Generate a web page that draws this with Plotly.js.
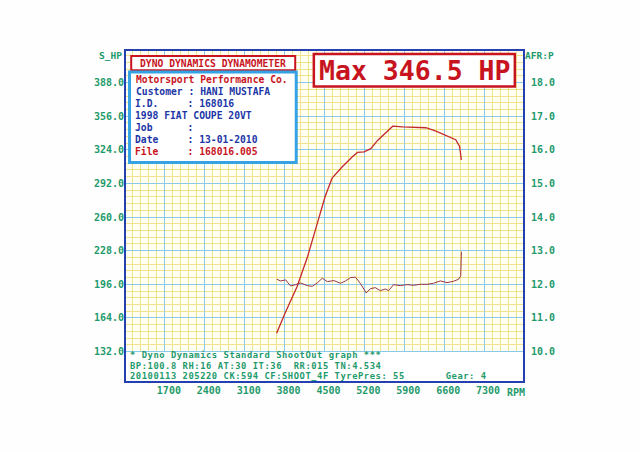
<!DOCTYPE html>
<html>
<head>
<meta charset="utf-8">
<script src="https://cdn.plot.ly/plotly-3.0.1.min.js"></script>
<style>
html,body{margin:0;padding:0;background:#fefefe;overflow:hidden;}
#chart{width:640px;height:452px;}
</style>
</head>
<body>
<div id="chart"></div>
<script>
// ---- data read from the dyno sheet ----
const rpmTicks = [1700, 2400, 3100, 3800, 4500, 5200, 5900, 6600, 7300];
const hpTicks = [132, 164, 196, 228, 260, 292, 324, 356, 388];
const afrTicks = [10, 11, 12, 13, 14, 15, 16, 17, 18];

const rpmPower = [3660, 3811, 4022, 4205, 4358, 4511, 4633, 4812, 4989, 5078, 5195, 5312, 5431, 5578, 5697, 5872, 6080, 6280, 6455, 6628, 6802, 6870, 6901];
const hpPower  = [149.4, 169.0, 194.2, 222.7, 251.1, 279.6, 297.0, 307.9, 317.3, 321.5, 322.0, 325.1, 332.9, 340.7, 346.5, 345.8, 345.6, 345.0, 341.8, 337.8, 333.6, 327.2, 314.5];

const rpmAfr = [3662, 3731, 3819, 3905, 3993, 4081, 4197, 4285, 4373, 4462, 4549, 4665, 4781, 4869, 4958, 5045, 5131, 5233, 5305, 5392, 5479, 5567, 5624, 5713, 5830, 5948, 6063, 6181, 6299, 6414, 6532, 6649, 6764, 6852, 6890, 6902];
const afrVals = [12.15, 12.10, 12.13, 11.95, 11.99, 12.04, 11.96, 11.94, 12.04, 12.18, 12.08, 12.11, 12.03, 12.10, 12.20, 12.21, 12.02, 11.74, 11.87, 11.90, 11.81, 11.86, 11.81, 11.99, 11.96, 11.99, 11.97, 12.00, 12.00, 12.03, 12.10, 12.05, 12.09, 12.15, 12.25, 12.97];

const headerLines = [
  ['Motorsport Performance Co.', 'red'],
  ['Customer : HANI MUSTAFA', 'blue'],
  ['I.D.     : 168016', 'blue'],
  ['1998 FIAT COUPE 20VT', 'blue'],
  ['Job      :', 'blue'],
  ['Date     : 13-01-2010', 'blue'],
  ['File     : 168016.005', 'red']
];
const footerLines = [
  '* Dyno Dynamics Standard ShootOut graph ***',
  'BP:100.8 RH:16 AT:30 IT:36  RR:015 TN:4.534',
  '20100113 205220 CK:594 CF:SHOOT_4F TyrePres: 55'
];
const gearText = 'Gear: 4';
const maxText = 'Max 346.5 HP';
const titleText = 'DYNO DYNAMICS DYNAMOMETER';

// ---- layout helpers (reference positions mapped into the frame's own axes) ----
const L = 125, T = 50, W = 399, H = 332;
const CX = 324.5, CY = 216, TH = 0.72 * Math.PI / 180;
function unrot(rx, ry) {
  const dx = rx - CX, dy = ry - CY;
  return [CX + dx * Math.cos(TH) - dy * Math.sin(TH), CY + dx * Math.sin(TH) + dy * Math.cos(TH)];
}
const px = x => (x - L) / W;
const py = y => 1 - (y - T) / H;
const nb = s => s.replace(/ /g, '\u00a0');

const RED = '#c8141e', BLUE = '#1c36a6', GREEN = '#1f9a6c', FRAME = '#2440b0';
const MONO = 'DejaVu Sans Mono, Liberation Mono, monospace';

function rectRef(x0, y0, x1, y1, line, lw, fill) {
  const c = unrot((x0 + x1) / 2, (y0 + y1) / 2);
  const hw = (x1 - x0) / 2, hh = (y1 - y0) / 2;
  return {type: 'rect', xref: 'paper', yref: 'paper', layer: 'above',
    x0: px(c[0] - hw), x1: px(c[0] + hw), y0: py(c[1] + hh), y1: py(c[1] - hh),
    line: {color: line, width: lw}, fillcolor: fill};
}
function textRef(rx, ry, text, color, size, anchor) {
  const c = unrot(rx, ry);
  return {xref: 'paper', yref: 'paper', x: px(c[0]), y: py(c[1]), text: text,
    showarrow: false, xanchor: anchor || 'left', yanchor: 'middle', align: anchor || 'left',
    font: {family: MONO, size: size, color: color, weight: 700}, borderpad: 0};
}

const fmt1 = v => v.toFixed(1);
const yMin = 103, yMax = 419;
const toAfr = v => (v - 132) / 32 + 10;

const traces = [
  {x: rpmPower, y: hpPower, type: 'scatter', mode: 'lines', yaxis: 'y',
   line: {color: '#c22a2a', width: 1.3}, hoverinfo: 'skip'},
  {x: rpmAfr, y: afrVals, type: 'scatter', mode: 'lines', yaxis: 'y2',
   line: {color: '#9a3446', width: 1}, hoverinfo: 'skip'}
];

const shapes = [
  {type: 'rect', xref: 'paper', yref: 'y', layer: 'above', x0: 0, x1: 1, y0: yMin, y1: 131.5,
   line: {width: 0}, fillcolor: '#ffffff'},
  {type: 'rect', xref: 'paper', yref: 'paper', layer: 'above', x0: 0, x1: 1, y0: 0, y1: 1,
   line: {color: FRAME, width: 2}},
  rectRef(129.3, 57.3, 293.3, 71.7, RED, 2, '#ffffff'),
  rectRef(128.3, 73.3, 295, 164, '#35a2e4', 3, '#ffffff'),
  rectRef(312, 53, 513, 85.5, RED, 2.5, '#ffffff')
];

const FS = 8.8, LS = 0.55, PITCH = 10.5; // compact footer font, spacing, line pitch
const annotations = [];
annotations.push(textRef(211.3, 64.5, nb(titleText), RED, 9.7, 'center'));
headerLines.forEach((ln, i) => {
  annotations.push(textRef(133, 81.7 + i * 12, nb(ln[0]), ln[1] === 'red' ? RED : BLUE, 9.7, 'left'));
});
annotations.push(textRef(412.5, 69.5, nb(maxText), RED, 26.5, 'center'));
const footerText = [footerLines[0], footerLines[1], footerLines[2] + '       ' + gearText].map(nb).join('<br>');
const footerIndex = annotations.length;
annotations.push(textRef(130.5, 357.5 + 1.3 * FS, footerText, GREEN, FS, 'left'));
annotations.push(textRef(108, 58, 'S_HP', GREEN, 9.5, 'center'));
annotations.push(textRef(537.5, 52.7, 'AFR:P', GREEN, 9.5, 'center'));
annotations.push(textRef(518.5, 390, 'RPM', GREEN, 10, 'center'));

const layout = {
  width: 640, height: 452,
  margin: {l: L, t: T, r: 640 - L - W, b: 452 - T - H},
  paper_bgcolor: 'rgba(0,0,0,0)',
  plot_bgcolor: '#fffff2',
  showlegend: false,
  hovermode: false,
  xaxis: {
    range: [1000, 8000], tickmode: 'array', tickvals: rpmTicks, ticktext: rpmTicks.map(String),
    showgrid: true, gridcolor: '#8cc8ec', gridwidth: 1, zeroline: false, showline: false, ticks: '',
    tickfont: {family: MONO, size: 10, color: GREEN, weight: 700},
    ticklabelshift: 4, ticklabelstandoff: 1,
    minor: {tickmode: 'linear', tick0: 1000, dtick: 140, showgrid: true, gridcolor: '#f0e28e', gridwidth: 1, ticks: ''}
  },
  yaxis: {
    range: [yMin, yMax], tickmode: 'array', tickvals: hpTicks, ticktext: hpTicks.map(fmt1),
    showgrid: true, gridcolor: '#8cc8ec', gridwidth: 1, zeroline: false, showline: false, ticks: '',
    tickfont: {family: MONO, size: 10, color: GREEN, weight: 700},
    ticklabelstandoff: 0,
    minor: {tickmode: 'linear', tick0: 132, dtick: 6.4, showgrid: true, gridcolor: '#f0e28e', gridwidth: 1, ticks: ''}
  },
  yaxis2: {
    overlaying: 'y', side: 'right', range: [toAfr(yMin), toAfr(yMax)],
    tickmode: 'array', tickvals: afrTicks, ticktext: afrTicks.map(fmt1),
    showgrid: false, zeroline: false, showline: false, ticks: '',
    tickfont: {family: MONO, size: 10, color: GREEN, weight: 700},
    ticklabelstandoff: 6
  },
  shapes: shapes,
  annotations: annotations
};

Plotly.newPlot('chart', traces, layout, {displayModeBar: false, staticPlot: true}).then(() => {
  const t = document.querySelector('#chart g.annotation[data-index="' + footerIndex + '"] text');
  if (t) {
    t.style.letterSpacing = LS + 'px';
    t.querySelectorAll('tspan.line').forEach((s, i) => s.setAttribute('dy', (i * PITCH) + 'px'));
  }
});
</script>
</body>
</html>
